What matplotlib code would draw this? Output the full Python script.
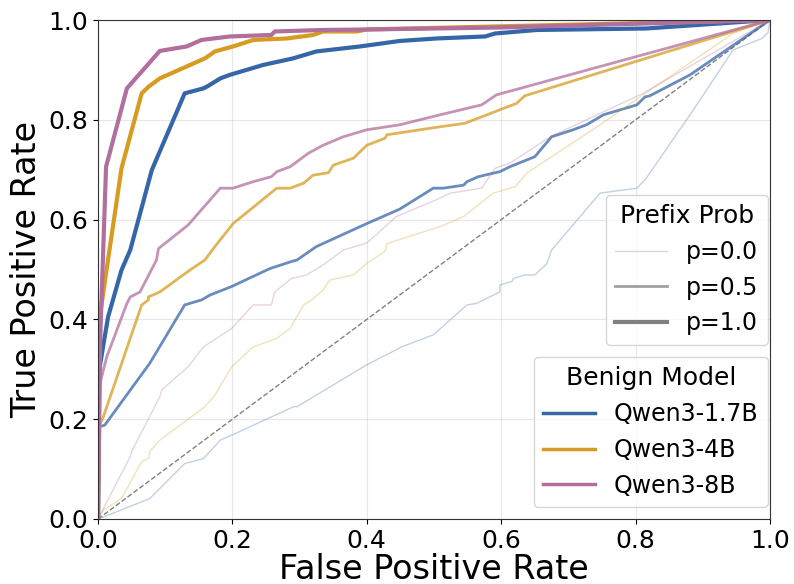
import numpy as np
import matplotlib
matplotlib.use('Agg')
import matplotlib.pyplot as plt
from matplotlib.lines import Line2D

# Cores e nomes dos modelos
modelos = ['Qwen3-1.7B', 'Qwen3-4B', 'Qwen3-8B']
cores = ['#3566a8', '#d69b20', '#b06f9c']
prefix_probs = ['p=0.0', 'p=0.5', 'p=1.0']

# Curvas ROC (fpr, tpr)
fpr_17b_p0 = [0.0, 0.010, 0.077, 0.129, 0.157, 0.182, 0.199, 0.291, 0.296, 0.40, 0.452, 0.499, 0.549, 0.563, 0.598, 0.598, 0.616, 0.618, 0.635, 0.650, 0.668, 0.675, 0.747, 0.802, 0.816, 0.821, 0.886, 0.945, 0.988, 0.997, 1.0]
tpr_17b_p0 = [0.0, 0.005, 0.041, 0.111, 0.121, 0.158, 0.168, 0.225, 0.225, 0.309, 0.345, 0.369, 0.429, 0.432, 0.455, 0.469, 0.476, 0.482, 0.489, 0.489, 0.512, 0.539, 0.653, 0.663, 0.683, 0.693, 0.820, 0.940, 0.963, 0.975, 1.0]

fpr_17b_p05 = [0.0, 0.002, 0.010, 0.077, 0.129, 0.154, 0.167, 0.199, 0.256, 0.288, 0.296, 0.325, 0.40, 0.449, 0.499, 0.514, 0.544, 0.549, 0.566, 0.588, 0.598, 0.613, 0.650, 0.675, 0.707, 0.727, 0.752, 0.802, 0.814, 0.821, 0.881, 1.0]
tpr_17b_p05 = [0.0, 0.185, 0.188, 0.312, 0.429, 0.439, 0.449, 0.466, 0.502, 0.516, 0.519, 0.546, 0.592, 0.621, 0.663, 0.663, 0.669, 0.676, 0.686, 0.693, 0.696, 0.706, 0.726, 0.766, 0.780, 0.790, 0.810, 0.830, 0.846, 0.848, 0.890, 1.0]

fpr_17b_p1 = [0.0, 0.002, 0.008, 0.015, 0.035, 0.048, 0.080, 0.129, 0.157, 0.164, 0.182, 0.196, 0.246, 0.29, 0.325, 0.39, 0.449, 0.504, 0.576, 0.591, 0.653, 0.816, 1.0]
tpr_17b_p1 = [0.0, 0.30, 0.349, 0.405, 0.499, 0.539, 0.699, 0.853, 0.863, 0.868, 0.883, 0.890, 0.910, 0.923, 0.937, 0.947, 0.958, 0.963, 0.967, 0.973, 0.980, 0.983, 1.0]

fpr_4b_p0 = [0.0, 0.008, 0.035, 0.065, 0.075, 0.077, 0.092, 0.159, 0.174, 0.199, 0.231, 0.266, 0.286, 0.306, 0.318, 0.335, 0.345, 0.380, 0.40, 0.427, 0.43, 0.509, 0.544, 0.588, 0.621, 0.638, 0.747, 0.811, 0.945, 1.0]
tpr_4b_p0 = [0.0, 0.018, 0.041, 0.115, 0.121, 0.135, 0.158, 0.225, 0.248, 0.305, 0.345, 0.362, 0.382, 0.429, 0.439, 0.459, 0.479, 0.489, 0.512, 0.536, 0.552, 0.586, 0.606, 0.653, 0.666, 0.693, 0.790, 0.850, 0.973, 1.0]

fpr_4b_p05 = [0.0, 0.003, 0.008, 0.065, 0.075, 0.075, 0.092, 0.137, 0.159, 0.174, 0.201, 0.266, 0.286, 0.306, 0.320, 0.343, 0.350, 0.380, 0.40, 0.427, 0.43, 0.509, 0.546, 0.623, 0.635, 1.0]
tpr_4b_p05 = [0.0, 0.19, 0.205, 0.429, 0.439, 0.445, 0.455, 0.499, 0.519, 0.546, 0.592, 0.663, 0.663, 0.673, 0.689, 0.694, 0.709, 0.723, 0.749, 0.763, 0.770, 0.786, 0.793, 0.833, 0.848, 1.0]

fpr_4b_p1 = [0.0, 0.002, 0.015, 0.035, 0.065, 0.075, 0.092, 0.159, 0.174, 0.201, 0.231, 0.281, 0.320, 0.335, 0.385, 0.40, 1.0]
tpr_4b_p1 = [0.0, 0.40, 0.52, 0.703, 0.853, 0.866, 0.883, 0.923, 0.937, 0.947, 0.960, 0.963, 0.970, 0.977, 0.977, 0.981, 1.0]

fpr_8b_p0 = [0.0, 0.048, 0.050, 0.092, 0.095, 0.134, 0.157, 0.199, 0.231, 0.258, 0.263, 0.288, 0.310, 0.335, 0.365, 0.40, 0.444, 0.509, 0.524, 0.571, 0.591, 0.613, 0.673, 0.811, 1.0]
tpr_8b_p0 = [0.0, 0.125, 0.135, 0.245, 0.259, 0.305, 0.345, 0.382, 0.429, 0.429, 0.455, 0.482, 0.489, 0.509, 0.539, 0.553, 0.606, 0.643, 0.653, 0.663, 0.703, 0.713, 0.766, 0.853, 1.0]

fpr_8b_p05 = [0.0, 0.003, 0.013, 0.043, 0.048, 0.0625, 0.087, 0.090, 0.134, 0.182, 0.201, 0.231, 0.258, 0.266, 0.286, 0.313, 0.335, 0.365, 0.40, 0.449, 0.509, 0.571, 0.593, 1.0]
tpr_8b_p05 = [0.0, 0.272, 0.325, 0.432, 0.445, 0.455, 0.519, 0.542, 0.589, 0.663, 0.663, 0.676, 0.686, 0.696, 0.706, 0.733, 0.749, 0.766, 0.780, 0.790, 0.810, 0.830, 0.850, 1.0]

fpr_8b_p1 = [0.0, 0.001, 0.003, 0.012, 0.043, 0.092, 0.132, 0.154, 0.196, 0.258, 0.263, 0.335, 0.40, 0.60, 1.0]
tpr_8b_p1 = [0.0, 0.10, 0.35, 0.706, 0.863, 0.938, 0.947, 0.960, 0.967, 0.970, 0.977, 0.980, 0.981, 0.985, 1.0]

curvas = {
    'Qwen3-1.7B': [(fpr_17b_p0, tpr_17b_p0), (fpr_17b_p05, tpr_17b_p05), (fpr_17b_p1, tpr_17b_p1)],
    'Qwen3-4B': [(fpr_4b_p0, tpr_4b_p0), (fpr_4b_p05, tpr_4b_p05), (fpr_4b_p1, tpr_4b_p1)],
    'Qwen3-8B': [(fpr_8b_p0, tpr_8b_p0), (fpr_8b_p05, tpr_8b_p05), (fpr_8b_p1, tpr_8b_p1)],
}

# estilo de cada prefix prob: (largura, alpha)
estilos = [(1.0, 0.3), (2.0, 0.75), (3.0, 1.0)]

fig = plt.figure(figsize=(7.94, 5.84), dpi=100)
ax = fig.add_axes([98/794, 1 - 519/584, 672/794, 499/584])

ax.plot([0, 1], [0, 1], '--', color='gray', lw=1)

for modelo, cor in zip(modelos, cores):
    for (fpr, tpr), (lw, a) in zip(curvas[modelo], estilos):
        ax.plot(fpr, tpr, color=cor, lw=lw, alpha=a)

ax.set_xlim(0, 1)
ax.set_ylim(0, 1)
ax.set_xlabel('False Positive Rate', fontsize=24, labelpad=0)
ax.set_ylabel('True Positive Rate', fontsize=24, labelpad=4)
ax.tick_params(labelsize=18)
ax.grid(True, alpha=0.3)
for s in ax.spines.values():
    s.set_color('#333333')

# Legendas
h_prefix = [Line2D([], [], color='gray', lw=lw, alpha=a) for lw, a in estilos]
leg1 = ax.legend(h_prefix, prefix_probs, title='Prefix Prob', fontsize=17, title_fontsize=18,
                 loc='lower right', bbox_to_anchor=(0.997, 0.349), borderaxespad=0, handlelength=2.2)
ax.add_artist(leg1)
h_modelos = [Line2D([], [], color=c, lw=2.5) for c in cores]
ax.legend(h_modelos, modelos, title='Benign Model', fontsize=17, title_fontsize=18,
          loc='lower right', bbox_to_anchor=(0.997, 0.024), borderaxespad=0, handlelength=2.2)

plt.savefig('out.png', dpi=100)
